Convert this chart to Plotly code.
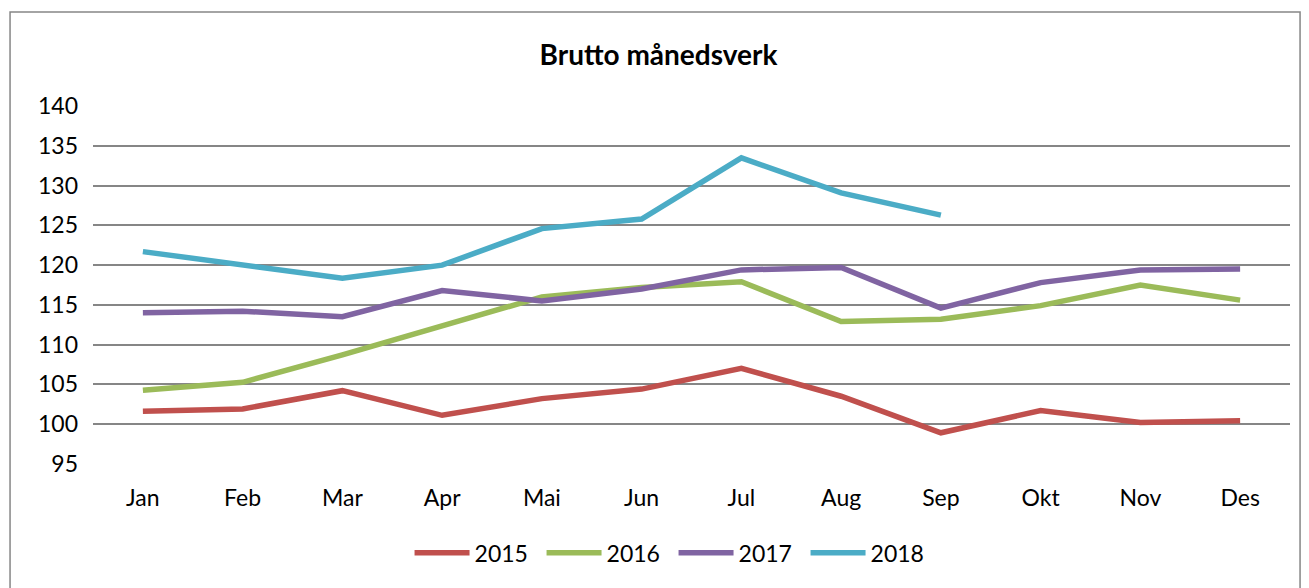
import plotly.graph_objects as go

months = ["Jan", "Feb", "Mar", "Apr", "Mai", "Jun", "Jul", "Aug", "Sep", "Okt", "Nov", "Des"]

y2015 = [101.6, 101.9, 104.2, 101.1, 103.2, 104.4, 107.0, 103.5, 98.9, 101.7, 100.2, 100.4]
y2016 = [104.25, 105.25, 108.7, 112.4, 116.0, 117.2, 117.9, 112.9, 113.2, 114.9, 117.5, 115.6]
y2017 = [114.0, 114.2, 113.5, 116.8, 115.5, 117.0, 119.4, 119.7, 114.6, 117.8, 119.4, 119.5]
y2018 = [121.7, 120.0, 118.35, 120.0, 124.6, 125.8, 133.5, 129.1, 126.3]

series = [
    ("2015", y2015, "#C0504D"),
    ("2016", y2016, "#9BBB59"),
    ("2017", y2017, "#8064A2"),
    ("2018", y2018, "#4BACC6"),
]

font = "Lato, Open Sans, sans-serif"

fig = go.Figure()
for name, vals, col in series:
    fig.add_trace(go.Scatter(x=months[:len(vals)], y=vals, name=name, mode="lines",
                             line=dict(color=col, width=5.5)))

# page body has an 8px margin, so the figure is a bit smaller than the window
fig.update_layout(
    width=1301, height=580,
    paper_bgcolor="white", plot_bgcolor="white",
    margin=dict(l=85, r=19, t=98, b=124),
    font=dict(family=font, size=23, color="black"),
    title=dict(text="<b>Brutto månedsverk</b>", x=0.5, xanchor="center",
               y=0.919, yanchor="middle", font=dict(size=28, family=font)),
    legend=dict(orientation="h", x=0.485, xanchor="center", y=-0.248, yanchor="middle",
                font=dict(size=23), itemwidth=55, entrywidth=62, entrywidthmode="pixels",
                traceorder="normal"),
    showlegend=True,
)
fig.update_xaxes(type="category", range=[-0.5, 11.5], showgrid=False, showline=False,
                 ticks="", zeroline=False, ticklabelstandoff=18)
fig.update_yaxes(range=[94.97, 140.03], tickvals=[95, 100, 105, 110, 115, 120, 125, 130, 135, 140],
                 showgrid=True, gridcolor="#868686", gridwidth=1.8,
                 zeroline=False, showline=False, ticks="", ticklabelstandoff=14)

fig.add_shape(type="rect", xref="paper", yref="paper", x0=-0.0693, x1=1.0084, y0=-0.4, y1=1.2626,
              line=dict(color="#868686", width=1.5), layer="below")

fig.write_html("out.html")
